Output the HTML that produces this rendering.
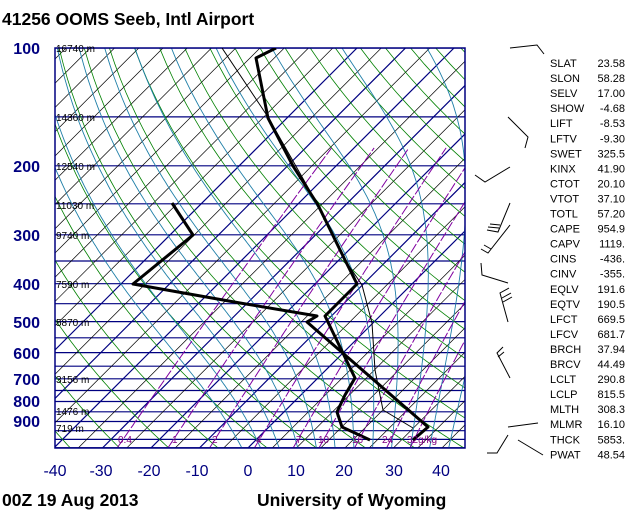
<!DOCTYPE html>
<html><head><meta charset="utf-8"><style>
body{margin:0;background:#fff;width:640px;height:512px;overflow:hidden;font-family:"Liberation Sans",sans-serif}
</style></head><body>
<svg id="s" width="640" height="512" xmlns="http://www.w3.org/2000/svg" font-family="Liberation Sans, sans-serif">
<defs><clipPath id="c"><rect x="55" y="48" width="410" height="400"/></clipPath></defs>
<rect width="640" height="512" fill="#fff"/>
<g id="bg" clip-path="url(#c)"></g>
<rect x="55" y="48" width="410" height="400" fill="none" stroke="#000080" stroke-width="1.5"/>
<g clip-path="url(#c)" fill="none" stroke="#000" stroke-linejoin="round">
<polyline stroke-width="1" points="222,48 268,117 318,205 345,260 362,285 372,323 375,370 383,410 413,428"/>
<polyline stroke-width="3" points="276,48 256,58 268,118 293,166 318,205 345,260 357,284 325,316 355,378 345,395 337,412 342,427 370,440"/>
<polyline stroke-width="3" points="172,203 193,235 133,284 240,303 317,316 307,322 428,427 413,440"/>
</g>
<g font-size="10" fill="#000">
<text x="56" y="52">16740 m</text><text x="56" y="121">14360 m</text><text x="56" y="170">12540 m</text><text x="56" y="209">11030 m</text><text x="56" y="239">9740 m</text><text x="56" y="288">7590 m</text><text x="56" y="326">5870 m</text><text x="56" y="383">3156 m</text><text x="56" y="415">1476 m</text><text x="56" y="432">719 m</text>
</g>
<g font-size="10" fill="#800080">
<text x="118" y="443">0.4</text><text x="172" y="443">1</text><text x="212" y="443">2</text><text x="256" y="443">4</text><text x="296" y="443">7</text><text x="318" y="443">10</text><text x="352" y="443">16</text><text x="382" y="443">24</text><text x="407" y="443">32g/kg</text>
</g>
<g font-size="16" font-weight="bold" fill="#000080" text-anchor="end">
<text x="40" y="54">100</text><text x="40" y="172">200</text><text x="40" y="241">300</text><text x="40" y="290">400</text><text x="40" y="328">500</text><text x="40" y="359">600</text><text x="40" y="385">700</text><text x="40" y="407">800</text><text x="40" y="427">900</text>
</g>
<g font-size="16" fill="#000080" text-anchor="middle">
<text x="55" y="476">-40</text><text x="101" y="476">-30</text><text x="149" y="476">-20</text><text x="197" y="476">-10</text><text x="248" y="476">0</text><text x="296" y="476">10</text><text x="344" y="476">20</text><text x="394" y="476">30</text><text x="441" y="476">40</text>
</g>
<text x="2" y="25" font-size="17.5" font-weight="bold">41256 OOMS Seeb, Intl Airport</text>
<text x="2" y="506" font-size="17.5" font-weight="bold">00Z 19 Aug 2013</text>
<text x="257" y="506" font-size="17.5" font-weight="bold">University of Wyoming</text>
<g stroke="#000" stroke-width="1" fill="none">
<polyline points="510,48 537,45 544,54"/>
<polyline points="508,117 528,137 525,148"/>
<polyline points="475,175 485,182 510,167"/>
<polyline points="510,203 498,232 487,230"/><line x1="499" y1="228" x2="488" y2="227"/><line x1="500" y1="225" x2="490" y2="224"/>
<polyline points="510,225 488,253 481,249"/><line x1="491" y1="249" x2="484" y2="245"/>
<polyline points="481,263 482,275 508,283"/>
<polyline points="508,322 500,293 509,288"/><line x1="502" y1="298" x2="511" y2="293"/><line x1="503" y1="302" x2="512" y2="297"/>
<polyline points="510,378 497,353 503,347"/><line x1="498" y1="357" x2="504" y2="352"/>
<line x1="508" y1="427" x2="538" y2="423"/>
<polyline points="508,435 497,453 487,453"/>
<line x1="518" y1="440" x2="543" y2="455"/>
</g>
<g id="tbl" font-size="11" fill="#000"></g>
<script>
var NS="http://www.w3.org/2000/svg";
function Y(p){return 48+170*Math.log(p/100);}
function X(T,p){return 248+4.85*T+(448-Y(p));}
var bg=document.getElementById('bg');
function pl(pts,col,w,dash){var e=document.createElementNS(NS,'polyline');e.setAttribute('points',pts.map(function(a){return a[0].toFixed(1)+','+a[1].toFixed(1)}).join(' '));e.setAttribute('fill','none');e.setAttribute('stroke',col);e.setAttribute('stroke-width',w);if(dash)e.setAttribute('stroke-dasharray',dash);bg.appendChild(e);}
function ln(x1,y1,x2,y2,col,w){pl([[x1,y1],[x2,y2]],col,w);}
for(var p=100;p<=1050;p+=50){var y=Y(p);ln(55,y,465,y,'#000080',1.2);}
for(var T=-160;T<=50;T+=5){var nv=(T%10==0)&&T>=-60&&T<=0;ln(X(T,1052),448,X(T,100),48,nv?'#000080':'#000',nv?1.2:0.7);}
for(var th=-40;th<=250;th+=10){var pts=[];for(var p=1050;p>=100;p-=10){pts.push([X((th+273.15)*Math.pow(p/1000,0.286)-273.15,p),Y(p)]);}pl(pts,'#008000',0.8);}
function es(T){return 6.112*Math.exp(17.67*T/(T+243.5));}
for(var t0=-4;t0<=40;t0+=4){var T=t0+273.15,pts=[],p=1000;
 var Td=T;for(var q=1000;q<1050;q+=5){var r=0.622*es(Td-273.15)/(q-es(Td-273.15));var d=(287*Td+2.5e6*r)/(1004+2.5e6*2.5e6*r*0.622/(287*Td*Td))/q;Td+=d*5;}
 T=Td;for(p=1050;p>=100;p-=5){pts.push([X(T-273.15,p),Y(p)]);var e=es(T-273.15);var r=0.622*e/(p-e);var d=(287*T+2.5e6*r)/(1004+2.5e6*2.5e6*r*0.622/(287*T*T))/p;T-=d*5;}
 pl(pts,'#1f7fa8',0.9);}
[0.4,1,2,4,7,10,16,24,32].forEach(function(w){var pts=[];for(var p=1050;p>=180;p-=10){var e=w*p/(622+w);var l=Math.log(e/6.112);var td=243.5*l/(17.67-l);pts.push([X(td,p),Y(p)]);}pl(pts,'#8000a0',1,'10,2');});
var rows=[["SLAT","23.58"],["SLON","58.28"],["SELV","17.00"],["SHOW","-4.68"],["LIFT","-8.53"],["LFTV","-9.30"],["SWET","325.5"],["KINX","41.90"],["CTOT","20.10"],["VTOT","37.10"],["TOTL","57.20"],["CAPE","954.9"],["CAPV","1119."],["CINS","-436."],["CINV","-355."],["EQLV","191.6"],["EQTV","190.5"],["LFCT","669.5"],["LFCV","681.7"],["BRCH","37.94"],["BRCV","44.49"],["LCLT","290.8"],["LCLP","815.5"],["MLTH","308.3"],["MLMR","16.10"],["THCK","5853."],["PWAT","48.54"]];
var tb=document.getElementById('tbl');
rows.forEach(function(r,i){var y=67+i*15.05;var a=document.createElementNS(NS,'text');a.setAttribute('x',550);a.setAttribute('y',y);a.textContent=r[0];tb.appendChild(a);var b=document.createElementNS(NS,'text');b.setAttribute('x',625);b.setAttribute('y',y);b.setAttribute('text-anchor','end');b.textContent=r[1];tb.appendChild(b);});
</script>
</svg>
</body></html>
